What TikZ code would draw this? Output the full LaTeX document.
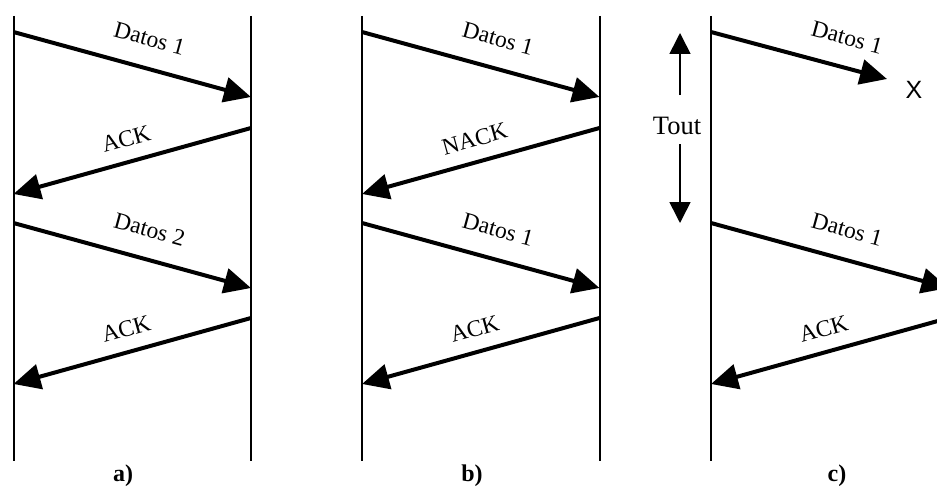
\documentclass[tikz,border=0pt]{standalone}
\usepackage{fontspec}
\setmainfont{Liberation Serif}
\newfontfamily\xsans{Liberation Sans}
\usetikzlibrary{arrows.meta}
\begin{document}
\begin{tikzpicture}[x=1pt,y=-1pt,
  lifeline/.style={line width=2pt},
  msg/.style={line width=4pt,-{Triangle[length=27pt,width=25pt]}},
  timer/.style={line width=1.6pt,-{Triangle[length=21pt,width=21pt]}},
  lbl/.style={font=\fontsize{23.5}{27}\selectfont,sloped,anchor=base,inner sep=0pt},
  caption/.style={font=\fontsize{24}{28}\selectfont\bfseries,anchor=base,inner sep=0pt}]
\useasboundingbox (0,0) rectangle (937,487);
\clip (0,0) rectangle (937,487);

% three sender/receiver pairs
\foreach \p/\dx in {a/0,b/348.5,c/697.5}{
  \coordinate (\p Lt) at (13.5+\dx,16);
  \coordinate (\p Lb) at (13.5+\dx,461);
  \coordinate (\p Rt) at (251+\dx,16);
  \coordinate (\p Rb) at (251+\dx,461);
  \coordinate (\p L1) at (13.5+\dx,32);
  \coordinate (\p R1) at (251+\dx,97);
  \coordinate (\p R2) at (251+\dx,128);
  \coordinate (\p L2) at (13.5+\dx,194);
  \coordinate (\p L3) at (13.5+\dx,223);
  \coordinate (\p R3) at (251+\dx,288);
  \coordinate (\p R4) at (251+\dx,318);
  \coordinate (\p L4) at (13.5+\dx,384);
}

% a) frame acknowledged, next frame sent
\draw[lifeline] (aLt) -- (aLb);
\draw[lifeline] (aRt) -- (aRb);
\draw[msg] (aL1) -- node[lbl,pos=0.54,above=20pt] {Datos 1} (aR1);
\draw[msg] (aR2) -- node[lbl,pos=0.5,above=13pt] {ACK} (aL2);
\draw[msg] (aL3) -- node[lbl,pos=0.54,above=20pt] {Datos 2} (aR3);
\draw[msg] (aR4) -- node[lbl,pos=0.5,above=13pt] {ACK} (aL4);
\node[caption] (capa) at (123,481) {a)};

% b) negative acknowledgement and retransmission
\draw[lifeline] (bLt) -- (bLb);
\draw[lifeline] (bRt) -- (bRb);
\draw[msg] (bL1) -- node[lbl,pos=0.54,above=20pt] {Datos 1} (bR1);
\draw[msg] (bR2) -- node[lbl,pos=0.5,above=13pt] {NACK} (bL2);
\draw[msg] (bL3) -- node[lbl,pos=0.54,above=20pt] {Datos 1} (bR3);
\draw[msg] (bR4) -- node[lbl,pos=0.5,above=13pt] {ACK} (bL4);
\node[caption] (capb) at (472,481) {b)};

% c) lost frame, timeout and retransmission
\draw[lifeline] (cLt) -- (cLb);
\draw[lifeline] (cRt) -- (cRb);
\coordinate (lost) at (887,79);
\draw[msg] (cL1) -- node[lbl,pos=0.73,above=20pt] {Datos 1} (lost);
\node[font=\xsans\fontsize{25}{29}\selectfont,inner sep=0pt] (x) at (914,90) {X};
\draw[msg] (cL3) -- node[lbl,pos=0.54,above=20pt] {Datos 1} (cR3);
\draw[msg] (cR4) -- node[lbl,pos=0.5,above=13pt] {ACK} (cL4);
\node[caption] (capc) at (837,481) {c)};

% timeout interval
\node[font=\fontsize{26.5}{30}\selectfont,inner sep=0pt] (tout) at (677,126) {Tout};
\coordinate (tupA) at (680,95);
\coordinate (tupB) at (680,33);
\coordinate (tdnA) at (680,144);
\coordinate (tdnB) at (680,223);
\draw[timer] (tupA) -- (tupB);
\draw[timer] (tdnA) -- (tdnB);
\end{tikzpicture}
\end{document}
